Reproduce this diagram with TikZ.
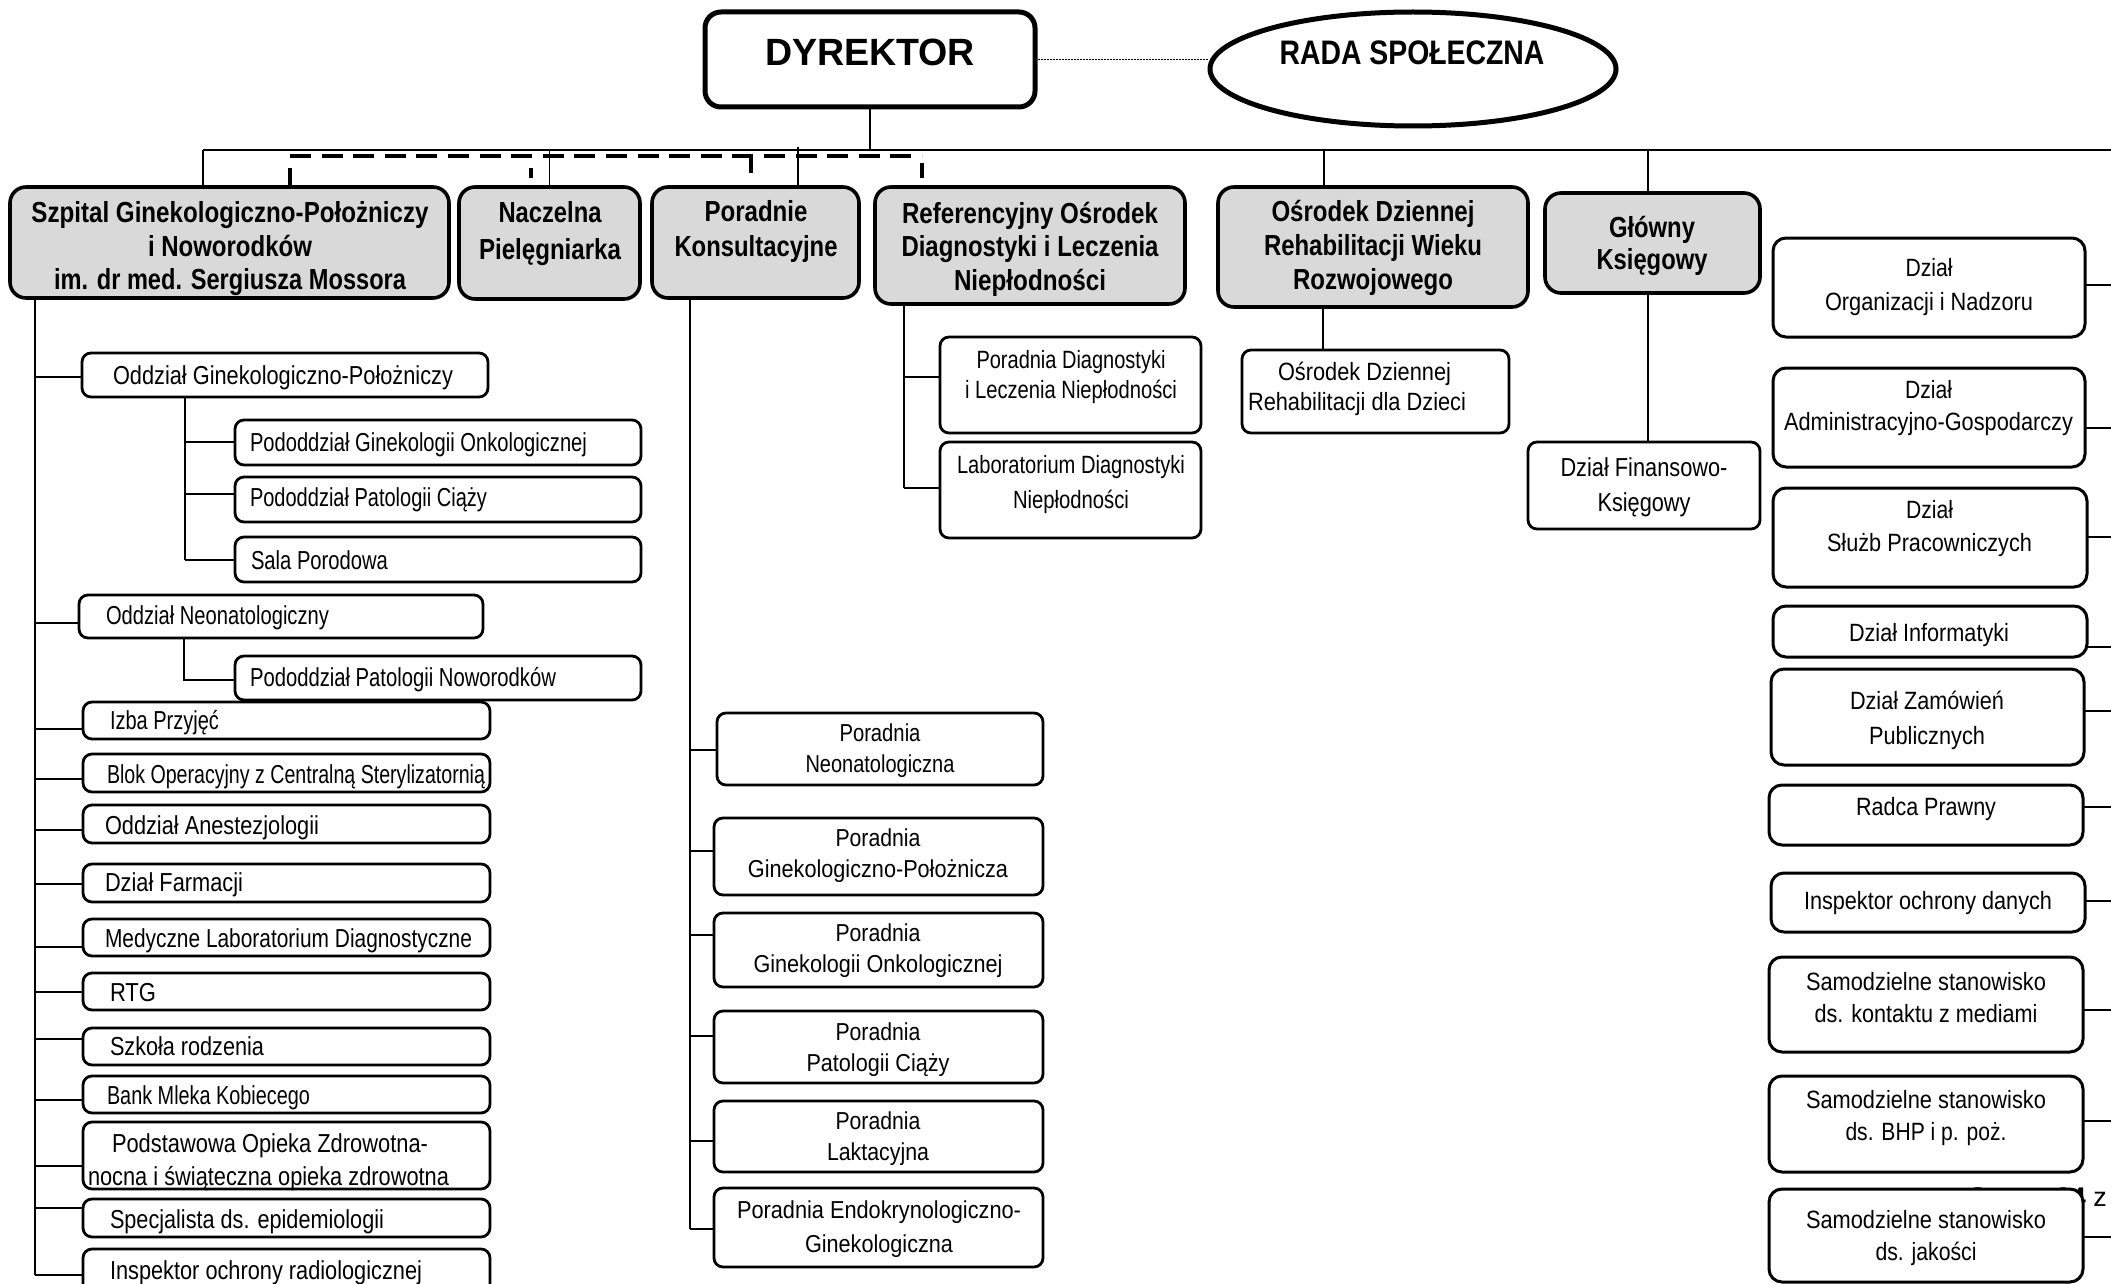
\documentclass[tikz,border=0pt]{standalone}
\usepackage{fontspec}
\setmainfont{Liberation Sans}
\usepackage{graphicx}
\usetikzlibrary{shapes.geometric,calc}
\definecolor{hdrgray}{RGB}{217,217,217}
\newcommand\W[2]{\resizebox{#1pt}{\height}{#2}}
\newcommand\fs[2]{\fontsize{#1}{#2}\selectfont}
\newcommand\mkbox[6]{\node[#1, minimum width={(#4-#2)*1pt}, minimum height={(#5-#3)*1pt}] (#6) at (#2,#3) {};}
\tikzset{
  box/.style={draw, line width=2.8pt, rounded corners=9pt, fill=white, outer sep=0pt, inner sep=0pt, anchor=north west},
  hbox/.style={box, fill=hdrgray, line width=3.6pt, rounded corners=16pt},
  rbox/.style={box, rounded corners=13pt, line width=3pt},
  dbox/.style={box, line width=5pt, rounded corners=16pt},
  conn/.style={line width=2.2pt},
  thinl/.style={line width=1.5pt},
  dashbus/.style={line width=4.5pt, dash pattern=on 21pt off 10.6pt},
  tickl/.style={line width=4.5pt},
  tx/.style={inner sep=0pt, outer sep=0pt, align=center},
  ltx/.style={inner sep=0pt, outer sep=0pt, anchor=west, font=\fs{26}{31}, text height=18.6pt, text depth=0pt},
  stx/.style={inner sep=0pt, outer sep=0pt, font=\fs{25}{30}, text height=17.9pt, text depth=0pt},
}
\begin{document}
\begin{tikzpicture}[x=1pt,y=-1pt]
\useasboundingbox (0,0) rectangle (2111,1284);
\clip (0,0) rectangle (2111,1284);
\fill[white] (0,0) rectangle (2111,1284);

% page footer text (partly hidden)
\node[anchor=base east, inner sep=0pt, font=\fs{27}{30}] (strona) at (2107,1206) {Strona \textbf{24} z};

% ---------- top ----------
\mkbox{dbox}{705}{12}{1035}{107}{dyr}
\node[ellipse, draw, line width=5pt, fill=white, inner sep=0pt, minimum width=406pt, minimum height=114pt] (rada) at (1413,69) {};
\draw[line width=1.2pt, dash pattern=on 1.5pt off 1.5pt] (dyr.east) -- (dyr.east -| rada.west);

\coordinate (busL) at (203,150);
\coordinate (busR) at (2140,150);
\draw[thinl] (dyr.south) -- (dyr.south |- busL);
\draw[thinl] (busL) -- (busR);

% header boxes
\mkbox{hbox}{10}{187}{449}{298}{szp}
\mkbox{hbox}{459}{187}{640}{299}{nac}
\mkbox{hbox}{652}{187}{859}{298}{por}
\mkbox{hbox}{875}{187}{1185}{304}{ref}
\mkbox{hbox}{1218}{187}{1528}{307}{odr}
\mkbox{hbox}{1545}{193}{1760}{293}{gk}

\coordinate (porTop) at (798,147);
\coordinate (odrTop) at (1324,150);
\coordinate (gkTop) at (1648,150);
\draw[thinl] (busL) -- (busL |- szp.north);
\draw[thinl] (nac.north |- busL) -- (nac.north);
\draw[thinl] (porTop) -- (porTop |- por.north);
\draw[thinl] (odrTop) -- (odrTop |- odr.north);
\draw[thinl] (gkTop) -- (gkTop |- gk.north);

% dashed bus
\coordinate (dL) at (290,156);
\coordinate (dR) at (922,156);
\draw[dashbus] (dL) -- (dR);
\draw[tickl] (290,168) -- (290,186);
\draw[tickl] (531,168) -- (531,178);
\draw[tickl] (751,157) -- (751,173);
\draw[tickl] (922,163) -- (922,178);

% ---------- Szpital subtree ----------
\coordinate (spine) at (35,298);
\draw[conn] (spine) -- (spine |- 0,1275);
\coordinate (ogpv) at (185,397);
\coordinate (neov) at (184,638);

\mkbox{box}{82}{353}{488}{397}{ogp}
\mkbox{box}{235}{420}{641}{465}{pgo}
\mkbox{box}{235}{477}{641}{522}{ppc}
\mkbox{box}{235}{537}{641}{582}{sala}
\mkbox{box}{79}{595}{483}{638}{neo}
\mkbox{box}{235}{656}{641}{700}{ppn}
\mkbox{box}{83}{702}{490}{739}{izba}
\mkbox{box}{83}{754}{490}{792}{blok}
\mkbox{box}{83}{805}{490}{843}{anest}
\mkbox{box}{83}{864}{490}{902}{farm}
\mkbox{box}{83}{919}{490}{956}{medl}
\mkbox{box}{83}{973}{490}{1010}{rtg}
\mkbox{box}{83}{1028}{490}{1065}{szk}
\mkbox{box}{83}{1076}{490}{1113}{bank}
\mkbox{box}{83}{1122}{490}{1189}{podst}
\mkbox{box}{83}{1199}{490}{1237}{spec}
\mkbox{box}{83}{1249}{490}{1300}{insr}

\draw[conn] (spine |- 0,377) -- (ogp.west |- 0,377);
\draw[conn] (ogpv) -- (ogpv |- 0,560);
\draw[conn] (ogpv |- 0,442) -- (pgo.west |- 0,442);
\draw[conn] (ogpv |- 0,494) -- (ppc.west |- 0,494);
\draw[conn] (ogpv |- 0,560) -- (sala.west |- 0,560);
\draw[conn] (spine |- 0,623) -- (neo.west |- 0,623);
\draw[conn] (neov) -- (neov |- 0,680) -- (ppn.west |- 0,680);
\draw[conn] (spine |- 0,729) -- (izba.west |- 0,729);
\draw[conn] (spine |- 0,779) -- (blok.west |- 0,779);
\draw[conn] (spine |- 0,830) -- (anest.west |- 0,830);
\draw[conn] (spine |- 0,884) -- (farm.west |- 0,884);
\draw[conn] (spine |- 0,947) -- (medl.west |- 0,947);
\draw[conn] (spine |- 0,992) -- (rtg.west |- 0,992);
\draw[conn] (spine |- 0,1039) -- (szk.west |- 0,1039);
\draw[conn] (spine |- 0,1100) -- (bank.west |- 0,1100);
\draw[conn] (spine |- 0,1166) -- (podst.west |- 0,1166);
\draw[conn] (spine |- 0,1208) -- (spec.west |- 0,1208);
\draw[conn] (spine |- 0,1275) -- (insr.west |- 0,1275);

% ---------- Poradnie subtree ----------
\coordinate (porv) at (690,298);
\draw[conn] (porv) -- (porv |- 0,1229);
\mkbox{box}{717}{713}{1043}{785}{pn}
\mkbox{box}{714}{818}{1043}{895}{pgp}
\mkbox{box}{714}{913}{1043}{987}{pgoo}
\mkbox{box}{714}{1011}{1043}{1083}{ppci}
\mkbox{box}{714}{1101}{1043}{1172}{pl}
\mkbox{box}{714}{1188}{1043}{1267}{pe}
\draw[conn] (porv |- 0,750) -- (pn.west |- 0,750);
\draw[conn] (porv |- 0,851) -- (pgp.west |- 0,851);
\draw[conn] (porv |- 0,935) -- (pgoo.west |- 0,935);
\draw[conn] (porv |- 0,1036) -- (ppci.west |- 0,1036);
\draw[conn] (porv |- 0,1141) -- (pl.west |- 0,1141);
\draw[conn] (porv |- 0,1229) -- (pe.west |- 0,1229);

% ---------- Referencyjny subtree ----------
\coordinate (refv) at (904,304);
\draw[conn] (refv) -- (refv |- 0,488);
\mkbox{box}{940}{337}{1201}{433}{pdl}
\mkbox{box}{940}{442}{1201}{538}{ldn}
\draw[conn] (refv |- 0,377) -- (pdl.west |- 0,377);
\draw[conn] (refv |- 0,488) -- (ldn.west |- 0,488);

% ---------- ODRWR subtree ----------
\mkbox{box}{1242}{350}{1509}{433}{odd}
\coordinate (odrv) at (1323,307);
\draw[thinl] (odrv) -- (odrv |- odd.north);

% ---------- Glowny Ksiegowy ----------
\mkbox{box}{1528}{442}{1760}{529}{dfk}
\coordinate (gkv) at (1648,293);
\draw[thinl] (gkv) -- (gkv |- dfk.north);

% ---------- right column ----------
\mkbox{rbox}{1773}{238}{2085}{337}{org}
\mkbox{rbox}{1773}{368}{2085}{467}{adm}
\mkbox{rbox}{1773}{488}{2087}{587}{slu}
\mkbox{rbox}{1773}{606}{2087}{657}{inf}
\mkbox{rbox}{1771}{669}{2084}{765}{zam}
\mkbox{rbox}{1769}{785}{2083}{845}{rad}
\mkbox{rbox}{1771}{873}{2085}{932}{ido}
\mkbox{rbox}{1769}{957}{2083}{1052}{smed}
\mkbox{rbox}{1769}{1076}{2083}{1172}{sbhp}
\mkbox{rbox}{1769}{1189}{2083}{1282}{sjak}
\draw[conn] (org.east |- 0,285) -- ++(40,0);
\draw[conn] (adm.east |- 0,428) -- ++(40,0);
\draw[conn] (slu.east |- 0,537) -- ++(40,0);
\draw[conn] (inf.east |- 0,647) -- ++(40,0);
\draw[conn] (zam.east |- 0,711) -- ++(40,0);
\draw[conn] (rad.east |- 0,807) -- ++(40,0);
\draw[conn] (ido.east |- 0,901) -- ++(40,0);
\draw[conn] (smed.east |- 0,1010) -- ++(40,0);
\draw[conn] (sbhp.east |- 0,1121) -- ++(40,0);
\draw[conn] (sjak.east |- 0,1237) -- ++(40,0);

% ---------- texts ----------
\node[tx, font=\fs{38}{44}\bfseries, text height=27.2pt, text depth=0pt] (tdyr) at (870,52) {\W{210}{DYREKTOR}};
\node[tx, font=\fs{34}{40}\bfseries, text height=24.3pt, text depth=0pt] (trada) at (1412,52) {\W{265}{RADA SPOŁECZNA}};

\node[tx, font=\fs{29}{33.5}\bfseries] (tszp) at (230,249) {\W{397}{Szpital Ginekologiczno-Położniczy}\\\W{164}{i Noworodków}\\\W{352}{im. dr med. Sergiusza Mossora}};
\node[tx, font=\fs{29}{37}\bfseries] (tnac) at (550,234) {\W{103}{Naczelna}\\\W{142}{Pielęgniarka}};
\node[tx, font=\fs{29}{35}\bfseries] (tpor) at (756,232) {\W{103}{Poradnie}\\\W{163}{Konsultacyjne}};
\node[tx, font=\fs{29}{33.5}\bfseries] (tref) at (1030,249) {\W{256}{Referencyjny Ośrodek}\\\W{257}{Diagnostyki i Leczenia}\\\W{152}{Niepłodności}};
\node[tx, font=\fs{29}{34}\bfseries] (todr) at (1373,248) {\W{203}{Ośrodek Dziennej}\\\W{218}{Rehabilitacji Wieku}\\\W{160}{Rozwojowego}};
\node[tx, font=\fs{29}{32}\bfseries] (tgk) at (1652,246) {\W{86}{Główny}\\\W{111}{Księgowy}};

\node[ltx] (togp) at (113,375) {\W{340}{Oddział Ginekologiczno-Położniczy}};
\node[ltx] (tpgo) at (250,442) {\W{337}{Pododdział Ginekologii Onkologicznej}};
\node[ltx] (tppc) at (250,497) {\W{237}{Pododdział Patologii Ciąży}};
\node[ltx] (tsala) at (251,560) {\W{137}{Sala Porodowa}};
\node[ltx] (tneo) at (106,615) {\W{223}{Oddział Neonatologiczny}};
\node[ltx] (tppn) at (250,677) {\W{306}{Pododdział Patologii Noworodków}};
\node[ltx] (tizba) at (110,720) {\W{109}{Izba Przyjęć}};
\node[ltx] (tblok) at (107,774) {\W{378}{Blok Operacyjny z Centralną Sterylizatornią}};
\node[ltx] (tanest) at (105,825) {\W{214}{Oddział Anestezjologii}};
\node[ltx] (tfarm) at (105,882) {\W{138}{Dział Farmacji}};
\node[ltx] (tmedl) at (105,938) {\W{367}{Medyczne Laboratorium Diagnostyczne}};
\node[ltx] (trtg) at (110,992) {\W{46}{RTG}};
\node[ltx] (tszk) at (110,1046) {\W{154}{Szkoła rodzenia}};
\node[ltx] (tbank) at (107,1095) {\W{203}{Bank Mleka Kobiecego}};
\node[ltx] (tpodst1) at (112,1143) {\W{316}{Podstawowa Opieka Zdrowotna-}};
\node[ltx] (tpodst2) at (88,1176) {\W{361}{nocna i świąteczna opieka zdrowotna}};
\node[ltx] (tspec) at (110,1219) {\W{274}{Specjalista ds. epidemiologii}};
\node[ltx] (tinsr) at (110,1270) {\W{312}{Inspektor ochrony radiologicznej}};

\node[tx, font=\fs{24.5}{31}] (tpn) at (880,751) {\W{81}{Poradnia}\\\W{149}{Neonatologiczna}};
\node[tx, font=\fs{24.5}{31}] (tpgp) at (878,856) {\W{85}{Poradnia}\\\W{260}{Ginekologiczno-Położnicza}};
\node[tx, font=\fs{24.5}{31}] (tpgoo) at (878,951) {\W{85}{Poradnia}\\\W{249}{Ginekologii Onkologicznej}};
\node[tx, font=\fs{24.5}{31}] (tppci) at (878,1050) {\W{85}{Poradnia}\\\W{143}{Patologii Ciąży}};
\node[tx, font=\fs{24.5}{31}] (tpl) at (878,1139) {\W{85}{Poradnia}\\\W{102}{Laktacyjna}};
\node[tx, font=\fs{24.5}{34}] (tpe) at (879,1229) {\W{284}{Poradnia Endokrynologiczno-}\\\W{148}{Ginekologiczna}};

\node[tx, font=\fs{25}{30}] (tpdl) at (1071,377) {\W{189}{Poradnia Diagnostyki}\\\W{212}{i Leczenia Niepłodności}};
\node[tx, font=\fs{25}{35}] (tldn) at (1071,485) {\W{228}{Laboratorium Diagnostyki}\\\W{116}{Niepłodności}};

\node[stx] (todd1) at (1364.5,372) {\W{173}{Ośrodek Dziennej}};
\node[stx] (todd2) at (1357,402) {\W{218}{Rehabilitacji dla Dzieci}};

\node[tx, font=\fs{26}{35}] (tdfk) at (1644,487) {\W{167}{Dział Finansowo-}\\\W{93}{Księgowy}};

\node[tx, font=\fs{25}{34}] (torg) at (1929,287) {\W{47}{Dział}\\\W{208}{Organizacji i Nadzoru}};
\node[tx, font=\fs{25}{32}] (tadm) at (1928.5,408) {\W{47}{Dział}\\\W{289}{Administracyjno-Gospodarczy}};
\node[tx, font=\fs{25}{33}] (tslu) at (1929.5,529) {\W{47}{Dział}\\\W{205}{Służb Pracowniczych}};
\node[stx] (tinf) at (1929,633) {\W{160}{Dział Informatyki}};
\node[tx, font=\fs{25}{35}] (tzam) at (1927,720) {\W{154}{Dział Zamówień}\\\W{116}{Publicznych}};
\node[stx] (trad) at (1926,807) {\W{140}{Radca Prawny}};
\node[stx] (tido) at (1928,901) {\W{248}{Inspektor ochrony danych}};
\node[tx, font=\fs{25}{32}] (tsmed) at (1926,998) {\W{240}{Samodzielne stanowisko}\\\W{223}{ds. kontaktu z mediami}};
\node[tx, font=\fs{25}{32}] (tsbhp) at (1926,1118) {\W{240}{Samodzielne stanowisko}\\\W{161}{ds. BHP i p. poż.}};
\node[tx, font=\fs{25}{32}] (tsjak) at (1926,1238) {\W{240}{Samodzielne stanowisko}\\\W{101}{ds. jakości}};
\end{tikzpicture}
\end{document}
